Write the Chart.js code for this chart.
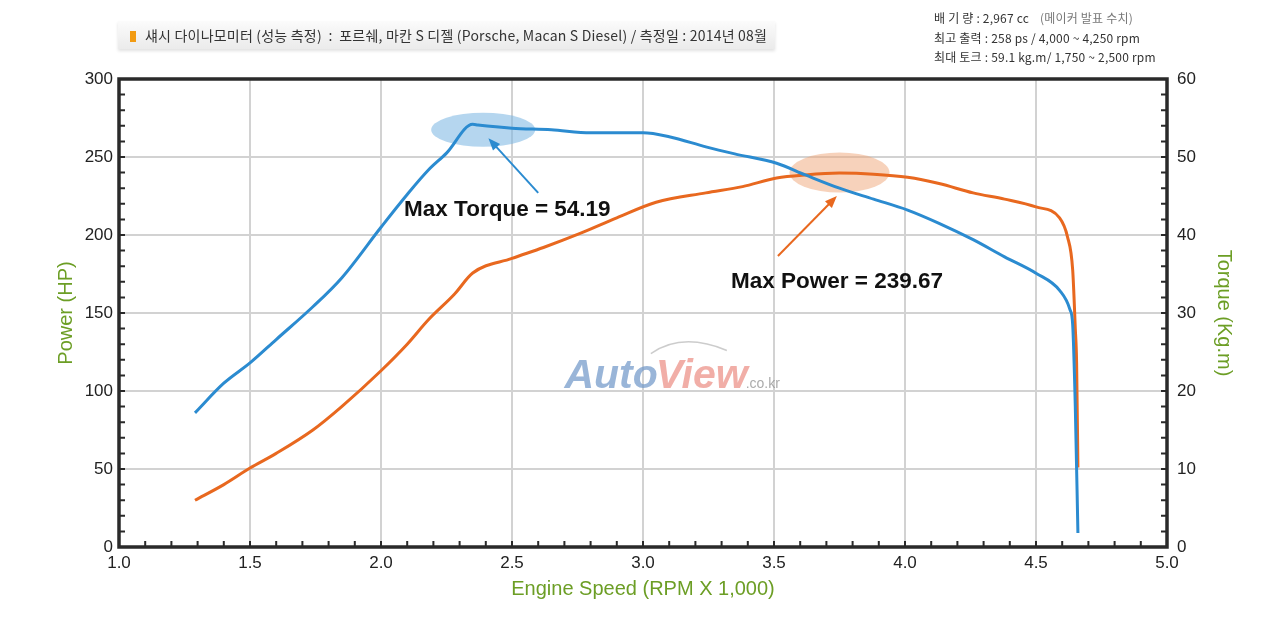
<!DOCTYPE html>
<html>
<head>
<meta charset="utf-8">
<script src="https://cdn.jsdelivr.net/npm/chart.js@4.4.0/dist/chart.umd.min.js"></script>
<style>
body { margin: 0; background: #fff; }
#wrap { position: relative; width: 1280px; height: 621px; }
#header {
    position: absolute; left: 118px; top: 21px; width: 657px; height: 28px;
    background: linear-gradient(#fbfbfb, #ebebeb);
    box-shadow: 0 2px 3px rgba(0,0,0,0.12);
    font: 14px "Noto Sans CJK KR", sans-serif; color: #333; letter-spacing: 0.2px;
    line-height: 28px; white-space: nowrap;
}
#header .sq { display: inline-block; width: 6px; height: 11px; background: #f29b12; margin: 0 9px 0 12px; vertical-align: -1px; }
#spec {
    position: absolute; left: 934px; top: 8px;
    font: 12px "Noto Sans CJK KR", sans-serif; color: #333; line-height: 19.5px; white-space: nowrap; letter-spacing: 0.2px;
}
#spec .note { color: #777; margin-left: 8px; }
</style>
</head>
<body>
<div id="wrap">
  <canvas id="myChart" width="1280" height="621"></canvas>
  <div id="header"><span class="sq"></span>섀시 다이나모미터 (성능 측정) &nbsp;:&nbsp; 포르쉐, 마칸 S 디젤 (Porsche, Macan S Diesel) / 측정일 : 2014년 08월</div>
  <div id="spec">
    배 기 량 : 2,967 cc <span class="note">(메이커 발표 수치)</span><br>
    최고 출력 : 258 ps / 4,000 ~ 4,250 rpm<br>
    최대 토크 : 59.1 kg.m/ 1,750 ~ 2,500 rpm
  </div>
</div>
<script>
// torque curve (right axis, kg.m)
const rpmTorque = [1.29, 1.40, 1.50, 1.60, 1.74, 1.85, 2.00, 2.10, 2.18, 2.25, 2.35, 2.37, 2.50, 2.65, 2.80, 3.00, 3.10, 3.24, 3.35, 3.51, 3.62, 3.75, 3.88, 4.01, 4.13, 4.26, 4.38, 4.50, 4.59, 4.63, 4.64, 4.65, 4.66];
const torqueKgm = [17.2, 21.0, 23.6, 26.6, 30.8, 34.5, 41.0, 45.2, 48.3, 50.5, 54.19, 54.1, 53.7, 53.5, 53.1, 53.1, 52.6, 51.3, 50.4, 49.2, 47.7, 46.0, 44.6, 43.2, 41.5, 39.4, 37.2, 35.1, 32.9, 30.4, 28.5, 18.0, 1.8];

// power curve (left axis, HP)
const rpmPower = [1.29, 1.40, 1.50, 1.60, 1.74, 1.85, 2.00, 2.10, 2.18, 2.28, 2.35, 2.50, 2.62, 2.76, 2.90, 3.05, 3.24, 3.38, 3.51, 3.62, 3.75, 3.88, 4.01, 4.13, 4.26, 4.38, 4.50, 4.59, 4.62, 4.64, 4.65, 4.655, 4.66];
const powerHp = [30, 40, 50.6, 60, 75, 90, 113, 130, 145.5, 162, 175.6, 185, 192, 201, 211, 221, 227, 231, 236.5, 238.5, 239.67, 239, 237, 233, 227, 223, 218, 211, 199, 177.6, 140, 118, 51];

const labelMaxTorque = 'Max Torque = 54.19';
const labelMaxPower = 'Max Power = 239.67';

const blue = '#2b8bd0';
const orange = '#e8681f';
const green = '#6c9e25';

Chart.defaults.font.family = '"Liberation Sans", Arial, sans-serif';
Chart.defaults.color = '#222';

function arrow(ctx, x1, y1, x2, y2, color) {
    const a = Math.atan2(y2 - y1, x2 - x1);
    ctx.strokeStyle = color;
    ctx.fillStyle = color;
    ctx.lineWidth = 2;
    ctx.beginPath();
    ctx.moveTo(x1, y1);
    ctx.lineTo(x2 - 8 * Math.cos(a), y2 - 8 * Math.sin(a));
    ctx.stroke();
    ctx.beginPath();
    ctx.moveTo(x2, y2);
    ctx.lineTo(x2 - 13 * Math.cos(a - 0.38), y2 - 13 * Math.sin(a - 0.38));
    ctx.lineTo(x2 - 13 * Math.cos(a + 0.38), y2 - 13 * Math.sin(a + 0.38));
    ctx.closePath();
    ctx.fill();
}

const decor = {
    id: 'decor',
    beforeDatasetsDraw(chart) {
        const { ctx, scales: { x, y, y1 } } = chart;
        ctx.save();
        // watermark
        let wx = x.getPixelForValue(2.70), wy = y.getPixelForValue(102);
        ctx.font = 'italic bold 41px "Liberation Sans", Arial, sans-serif';
        ctx.textBaseline = 'alphabetic';
        ctx.fillStyle = 'rgba(110,150,200,0.7)';
        ctx.fillText('Auto', wx, wy);
        wx += ctx.measureText('Auto').width - 2;
        ctx.fillStyle = 'rgba(235,140,130,0.7)';
        ctx.fillText('View', wx, wy);
        wx += ctx.measureText('View').width - 2;
        ctx.font = '14px "Liberation Sans", Arial, sans-serif';
        ctx.fillStyle = 'rgba(150,150,150,0.8)';
        ctx.fillText('.co.kr', wx, wy);
        ctx.strokeStyle = 'rgba(170,170,170,0.6)';
        ctx.lineWidth = 1.5;
        ctx.beginPath();
        ctx.moveTo(x.getPixelForValue(3.03), y.getPixelForValue(124));
        ctx.quadraticCurveTo(x.getPixelForValue(3.15), y.getPixelForValue(138), x.getPixelForValue(3.32), y.getPixelForValue(126));
        ctx.stroke();

        // highlight ellipses
        ctx.fillStyle = 'rgba(120,180,225,0.55)';
        ctx.beginPath();
        ctx.ellipse(x.getPixelForValue(2.39), y1.getPixelForValue(53.5), 52, 17, 0, 0, Math.PI * 2);
        ctx.fill();
        ctx.fillStyle = 'rgba(240,165,120,0.5)';
        ctx.beginPath();
        ctx.ellipse(x.getPixelForValue(3.75), y.getPixelForValue(240), 50, 20, 0, 0, Math.PI * 2);
        ctx.fill();
        ctx.restore();
    },
    afterDatasetsDraw(chart) {
        const { ctx, chartArea: ca, scales: { x, y, y1 } } = chart;
        ctx.save();
        // minor ticks, pointing inward
        ctx.strokeStyle = '#2a2a2a';
        ctx.lineWidth = 2;
        ctx.beginPath();
        for (let v = 10; v < 300; v += 10) {
            const py = y.getPixelForValue(v);
            ctx.moveTo(ca.left, py); ctx.lineTo(ca.left + 6, py);
        }
        for (let v = 2; v < 60; v += 2) {
            const py = y1.getPixelForValue(v);
            ctx.moveTo(ca.right, py); ctx.lineTo(ca.right - 6, py);
        }
        for (let i = 11; i < 50; i++) {
            const px = x.getPixelForValue(i / 10);
            ctx.moveTo(px, ca.bottom); ctx.lineTo(px, ca.bottom - 6);
        }
        ctx.stroke();
        // frame
        ctx.lineWidth = 3.5;
        ctx.strokeRect(ca.left, ca.top, ca.right - ca.left, ca.bottom - ca.top);

        // annotations
        arrow(ctx, x.getPixelForValue(2.6), y1.getPixelForValue(45.4), x.getPixelForValue(2.41), y1.getPixelForValue(52.4), blue);
        arrow(ctx, x.getPixelForValue(3.515), y.getPixelForValue(186.5), x.getPixelForValue(3.74), y.getPixelForValue(225), orange);
        ctx.font = 'bold 22.5px "Liberation Sans", Arial, sans-serif';
        ctx.fillStyle = '#111';
        ctx.textBaseline = 'middle';
        ctx.fillText(labelMaxTorque, x.getPixelForValue(2.088), y.getPixelForValue(216));
        ctx.fillText(labelMaxPower, x.getPixelForValue(3.336), y.getPixelForValue(170));
        ctx.restore();
    }
};

const ctx = document.getElementById('myChart').getContext('2d');
const myChart = new Chart(ctx, {
    type: 'scatter',
    data: {
        datasets: [{
            label: 'Torque',
            data: rpmTorque.map((r, i) => ({ x: r, y: torqueKgm[i] })),
            yAxisID: 'y1',
            showLine: true,
            borderColor: blue,
            borderWidth: 3,
            pointRadius: 0,
            cubicInterpolationMode: 'monotone'
        }, {
            label: 'Power',
            data: rpmPower.map((r, i) => ({ x: r, y: powerHp[i] })),
            yAxisID: 'y',
            showLine: true,
            borderColor: orange,
            borderWidth: 3,
            pointRadius: 0,
            cubicInterpolationMode: 'monotone'
        }]
    },
    options: {
        responsive: false,
        animation: false,
        layout: { padding: { left: 40, right: 30, top: 79, bottom: 10 } },
        plugins: { legend: { display: false }, tooltip: { enabled: false } },
        scales: {
            x: {
                type: 'linear', min: 1, max: 5,
                afterFit: s => { s.height = 64; },
                ticks: { stepSize: 0.5, padding: 6, font: { size: 17 }, callback: v => v.toFixed(1) },
                grid: { color: '#d2d2d2', lineWidth: 2, drawTicks: false },
                border: { display: false },
                title: { display: true, text: 'Engine Speed (RPM X 1,000)', color: green, font: { size: 20 }, padding: { bottom: 10 } }
            },
            y: {
                position: 'left', min: 0, max: 300,
                afterFit: s => { s.width = 79; },
                ticks: { stepSize: 50, padding: 6, font: { size: 17 } },
                grid: { color: '#d2d2d2', lineWidth: 2, drawTicks: false },
                border: { display: false },
                title: { display: true, text: 'Power (HP)', color: green, font: { size: 20 }, padding: { top: 14 } }
            },
            y1: {
                position: 'right', min: 0, max: 60,
                afterFit: s => { s.width = 83; },
                ticks: { stepSize: 10, padding: 10, font: { size: 17 } },
                grid: { drawOnChartArea: false, drawTicks: false },
                border: { display: false },
                title: { display: true, text: 'Torque (Kg.m)', color: green, font: { size: 20 }, padding: { top: 14 } }
            }
        }
    },
    plugins: [decor]
});
</script>
</body>
</html>
